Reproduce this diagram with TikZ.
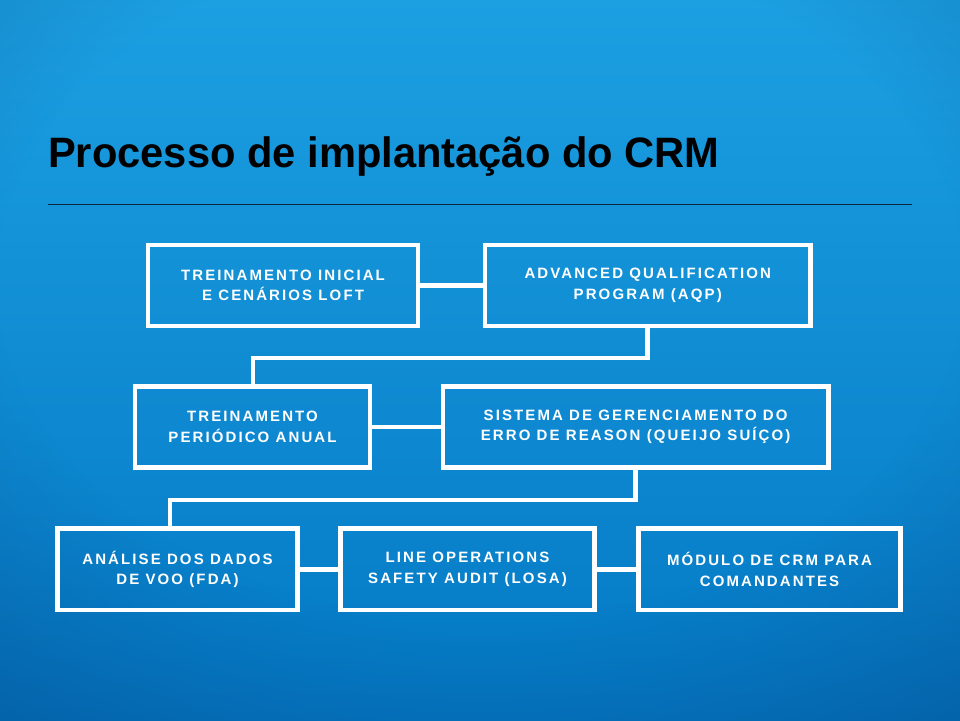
\documentclass[tikz,border=0pt]{standalone}
\usepackage{fontspec}
\setmainfont{Liberation Sans}
\newfontfamily\boxfont{Liberation Sans}[LetterSpace=14]
\usetikzlibrary{calc,fadings}
\definecolor{bgtop}{RGB}{28,160,226}
\definecolor{bgmid}{RGB}{18,140,210}
\definecolor{bgbot}{RGB}{4,120,196}
\definecolor{vigcol}{RGB}{5,60,120}
\definecolor{rulecol}{RGB}{10,40,64}
\pgfdeclareradialshading{vigshade}{\pgfpointorigin}{color(0bp)=(black); color(15bp)=(black); color(25bp)=(white); color(50bp)=(white)}
\pgfdeclarefading{vignette}{\pgfuseshading{vigshade}}
\tikzset{
  stepbox/.style={draw=white, line width=4.7pt, minimum height=81pt, inner sep=0pt,
    align=center, text=white, font=\boxfont\bfseries\fontsize{15}{20.4}\selectfont},
  link/.style={draw=white, line width=4.7pt},
}
\begin{document}
\begin{tikzpicture}[x=1pt,y=-1pt]
\useasboundingbox (0,0) rectangle (960,720);
\shade[top color=bgtop, middle color=bgmid, bottom color=bgbot] (0,0) rectangle (960,720);
\begin{scope}
\clip (0,0) rectangle (960,720);
\fill[vigcol, fill opacity=0.35, path fading=vignette] (-320,-280) rectangle (1280,840);
\end{scope}

\node[anchor=base west, inner sep=0pt, font=\bfseries\fontsize{42.5}{50}\selectfont, text=black]
  (title) at (48,167.7) {\scalebox{0.98}[1]{Processo de implantação do CRM}};
\coordinate (r1) at (48,204);
\coordinate (r2) at (912,204);
\draw[rulecol, line width=1pt] (r1) -- (r2);

\node[stepbox, minimum width=270pt]   (A) at (283,285.5)   {TREINAMENTO INICIAL\\E CENÁRIOS LOFT};
\node[stepbox, minimum width=325.5pt] (B) at (647.75,285.5) {ADVANCED QUALIFICATION\\PROGRAM (AQP)};
\node[stepbox, minimum width=235pt]   (C) at (252.5,427)   {TREINAMENTO\\PERIÓDICO ANUAL};
\node[stepbox, minimum width=385.3pt] (D) at (635.6,427)   {SISTEMA DE GERENCIAMENTO DO\\ERRO DE REASON (QUEIJO SUÍÇO)};
\node[stepbox, minimum width=240pt, minimum height=81.5pt] (E) at (177.5,569.3) {ANÁLISE DOS DADOS\\DE VOO (FDA)};
\node[stepbox, minimum width=254pt, minimum height=81.5pt] (F) at (467.5,569.3) {LINE OPERATIONS\\SAFETY AUDIT (LOSA)};
\node[stepbox, minimum width=262.5pt, minimum height=81.5pt] (G) at (769.5,569.3) {MÓDULO DE CRM PARA\\COMANDANTES};

\coordinate (c1) at (253,358);
\coordinate (e1) at (170,500);
\draw[link] (A.east) -- (B.west);
\draw[link] (B.south) |- (c1) -- (c1 |- C.north);
\draw[link] (C.east) -- (D.west);
\draw[link] (D.south) |- (e1) -- (e1 |- E.north);
\draw[link] (E.east) -- (F.west);
\draw[link] (F.east) -- (G.west);
\end{tikzpicture}
\end{document}
